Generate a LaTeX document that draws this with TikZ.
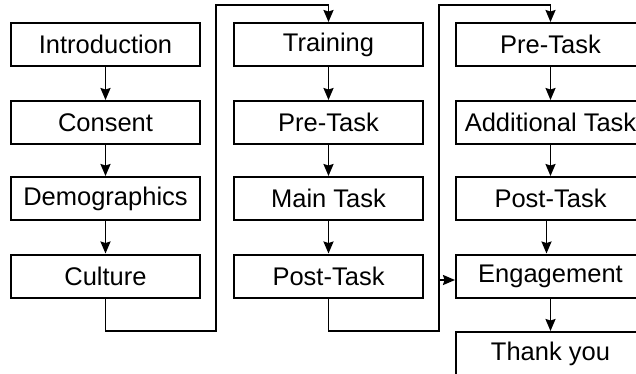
\documentclass[tikz,border=0pt]{standalone}
\usepackage{fontspec}
\setmainfont{Liberation Sans}
\usetikzlibrary{arrows.meta}
\begin{document}
\begin{tikzpicture}[x=1pt,y=-1pt,
  stepbox/.style={draw, line width=2pt, minimum width=189pt, minimum height=43pt,
    inner sep=0pt, font=\fontsize{25.5}{30}\selectfont},
  flow/.style={line width=1.8pt},
  arr/.style={flow, -{Stealth[length=12pt,width=10pt,inset=1.5pt]}}]
\useasboundingbox (0,0) rectangle (636,373);
\fill[white] (0,0) rectangle (636,373);
\clip (0,0) rectangle (636,373);
% column 1
\node[stepbox] (intro) at (105.5,44.5) {Introduction};
\node[stepbox] (cons) at (105.5,122.5) {Consent};
\node[stepbox] (demo) at (105.5,198.5) {Demographics};
\node[stepbox] (cult) at (105.5,276) {Culture};
% column 2
\node[stepbox] (train) at (328.5,44.5) {Training};
\node[stepbox] (pre2) at (328.5,122.5) {Pre-Task};
\node[stepbox] (main) at (328.5,198.5) {Main Task};
\node[stepbox] (post2) at (328.5,276) {Post-Task};
% column 3
\node[stepbox] (pre3) at (550.5,44.5) {Pre-Task};
\node[stepbox] (add) at (550.5,122.5) {Additional Task};
\node[stepbox] (post3) at (550.5,198.5) {Post-Task};
\node[stepbox] (eng) at (550.5,276) {Engagement};
\node[stepbox] (thank) at (550.5,353.5) {Thank you};
% arrows
\draw[arr] (intro) -- (cons);
\draw[arr] (cons) -- (demo);
\draw[arr] (demo) -- (cult);
\draw[arr] (train) -- (pre2);
\draw[arr] (pre2) -- (main);
\draw[arr] (main) -- (post2);
\draw[arr] (pre3) -- (add);
\draw[arr] (add) -- (post3);
\draw[arr] ([xshift=-4pt]post3.south) -- ([xshift=-4pt]post3.south |- eng.north);
\draw[arr] (eng) -- (thank);
% connectors between columns
\coordinate (a1) at (105.5,331);
\coordinate (a2) at (216,331);
\coordinate (a3) at (216,5);
\coordinate (a4) at (328.5,5);
\draw[arr] (cult.south) -- (a1) -- (a2) -- (a3) -- (a4) -- (train.north);
\coordinate (b1) at (328.5,331);
\coordinate (b2) at (439,331);
\coordinate (b3) at (439,5);
\coordinate (b4) at (550.5,5);
\draw[arr] (post2.south) -- (b1) -- (b2) -- (b3) -- (b4) -- (pre3.north);
\coordinate (j) at (439,280);
\draw[arr] (j) -- (j -| eng.west);
\end{tikzpicture}
\end{document}
